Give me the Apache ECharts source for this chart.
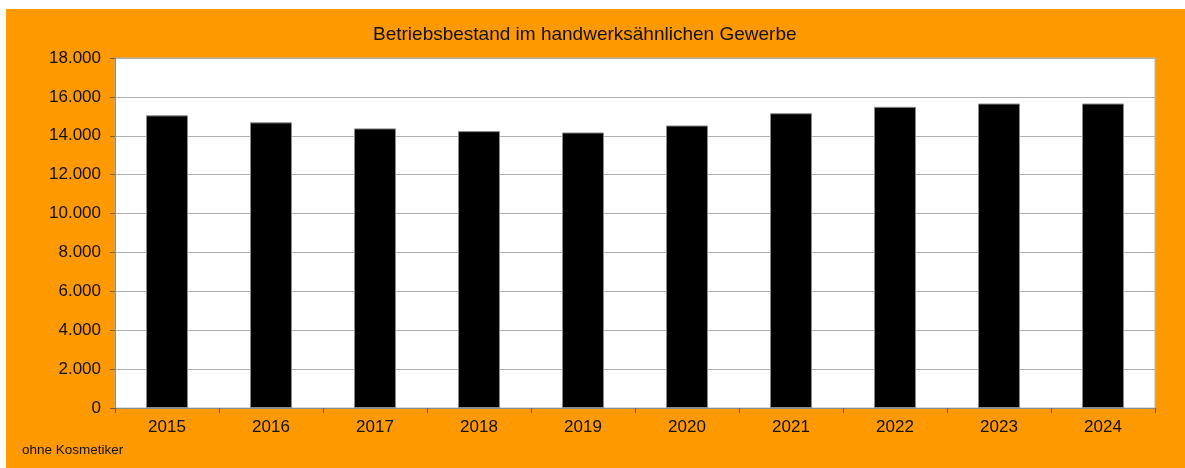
<!DOCTYPE html>
<html>
<head>
<meta charset="utf-8">
<script src="https://cdn.jsdelivr.net/npm/echarts@6/dist/echarts.min.js"></script>
<style>
  html, body { margin: 0; padding: 0; background: #fff; }
  #bg { position: absolute; left: 6px; top: 9px; width: 1179px; height: 459px; background: #ff9900; }
  #chart { position: absolute; left: 0; top: 0; width: 1185px; height: 468px; }
</style>
</head>
<body>
<div id="bg"></div>
<div id="chart"></div>
<script>
// Jahre
const years = ['2015', '2016', '2017', '2018', '2019', '2020', '2021', '2022', '2023', '2024'];
// Betriebe (ohne Kosmetiker)
const betriebe = [15050, 14690, 14380, 14240, 14170, 14530, 15160, 15490, 15660, 15660];

const fontName = '"Liberation Sans", Arial, sans-serif';

let chart = echarts.init(document.getElementById('chart'));
let option = {
  backgroundColor: 'transparent',
  textStyle: { fontFamily: fontName },
  title: {
    text: 'Betriebsbestand im handwerksähnlichen Gewerbe',
    left: 368,
    top: 20,
    textStyle: { fontSize: 19, fontWeight: 'normal', color: '#111', fontFamily: fontName }
  },
  graphic: [{
    type: 'text',
    left: 22,
    top: 443,
    style: { text: 'ohne Kosmetiker', fontSize: 13.5, fill: '#111', fontFamily: fontName }
  }],
  grid: {
    left: 115, right: 30, top: 58, bottom: 60,
    show: true, backgroundColor: '#fff', borderColor: '#b5b5b5', borderWidth: 1
  },
  xAxis: {
    type: 'category',
    data: years,
    axisLine: { lineStyle: { color: '#8a8a8a' } },
    axisTick: { show: true, length: 5, lineStyle: { color: '#555' } },
    axisLabel: { color: '#111', fontSize: 17, margin: 11 }
  },
  yAxis: {
    type: 'value',
    min: 0, max: 18000, interval: 2000,
    axisLine: { show: true, lineStyle: { color: '#8a8a8a' } },
    axisTick: { show: true, length: 5, lineStyle: { color: '#8a5a1a' } },
    axisLabel: {
      color: '#111', fontSize: 17, margin: 14,
      formatter: v => v === 0 ? '0' : String(v).replace(/\B(?=(\d{3})+(?!\d))/g, '.')
    },
    splitLine: { lineStyle: { color: '#b0b0b0', width: 1 } }
  },
  series: [{
    type: 'bar',
    data: betriebe,
    barWidth: 42,
    itemStyle: { color: '#000', borderColor: '#8c8c8c', borderWidth: 1 },
    silent: true
  }]
};
chart.setOption(option);
</script>
</body>
</html>
